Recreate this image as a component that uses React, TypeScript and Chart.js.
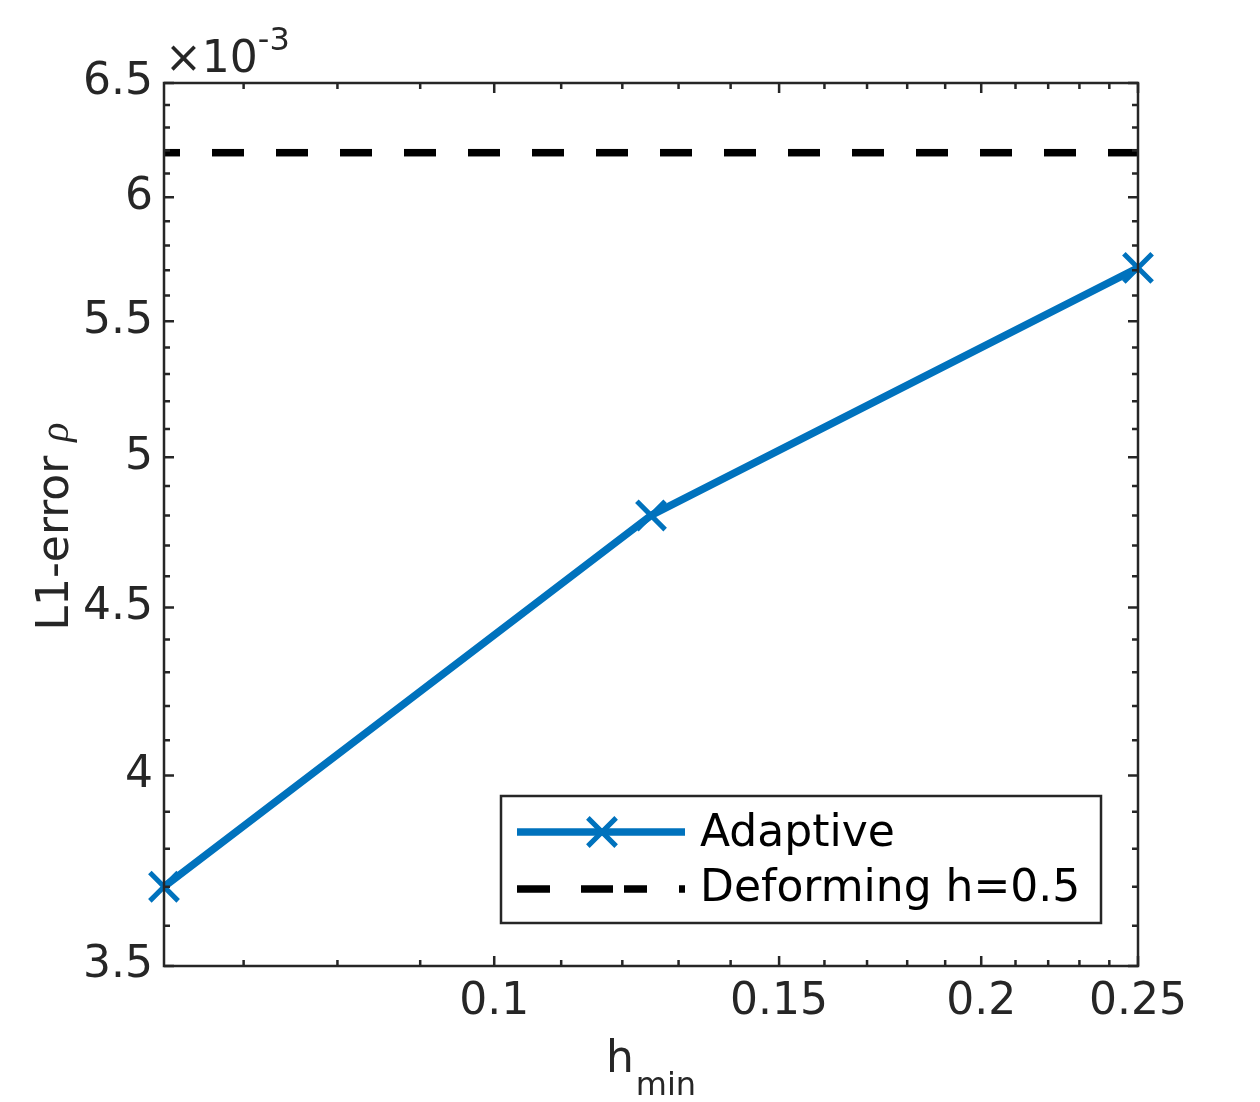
import React, { useEffect, useRef } from 'react';
import { Chart, registerables } from 'chart.js';

Chart.register(...registerables);

// ---- data ----
const hMin = [0.0625, 0.125, 0.25];
const adaptiveErr = [3.70e-3, 4.80e-3, 5.71e-3];
const deformingX = [0.0625, 0.25];
const deformingErr = [6.19e-3, 6.19e-3];
const seriesNames = ['Adaptive', 'Deforming h=0.5'];

const xMajorTicks = [0.1, 0.15, 0.2, 0.25];
const xMajorLabels = ['0.1', '0.15', '0.2', '0.25'];
const xMinorTicks = [0.07, 0.08, 0.09, 0.11, 0.12, 0.13, 0.14, 0.16, 0.17, 0.18, 0.19, 0.21, 0.22, 0.23, 0.24];

const yMajorTicks = [3.5e-3, 4.0e-3, 4.5e-3, 5.0e-3, 5.5e-3, 6.0e-3, 6.5e-3];
const yMajorLabels = ['3.5', '4', '4.5', '5', '5.5', '6', '6.5'];
const yMinorTicks = [
  3.6e-3, 3.7e-3, 3.8e-3, 3.9e-3,
  4.1e-3, 4.2e-3, 4.3e-3, 4.4e-3,
  4.6e-3, 4.7e-3, 4.8e-3, 4.9e-3,
  5.1e-3, 5.2e-3, 5.3e-3, 5.4e-3,
  5.6e-3, 5.7e-3, 5.8e-3, 5.9e-3,
  6.1e-3, 6.2e-3, 6.3e-3, 6.4e-3,
];

const FONT = "'DejaVu Sans', sans-serif";
const AXIS = '#262626';
const BLUE = '#0072BD';

function findIdx(list: number[], v: number): number {
  for (let i = 0; i < list.length; i++) {
    if (Math.abs(list[i] - v) / list[i] < 1e-6) return i;
  }
  return -1;
}

const framePlugin = {
  id: 'frame',
  afterDraw(chart: any) {
    const { ctx, chartArea: a, scales } = chart;
    const xs = scales.x;
    const ys = scales.y;
    ctx.save();

    // box
    ctx.strokeStyle = AXIS;
    ctx.lineWidth = 2.5;
    ctx.strokeRect(a.left, a.top, a.right - a.left, a.bottom - a.top);

    // inward ticks
    const majorLen = 10;
    const minorLen = 6;
    ctx.beginPath();
    const xAll = [...xMajorTicks.map((v) => [v, 1]), ...xMinorTicks.map((v) => [v, 0])];
    xAll.forEach(([v, m]) => {
      const px = xs.getPixelForValue(v);
      const len = m ? majorLen : minorLen;
      ctx.moveTo(px, a.bottom);
      ctx.lineTo(px, a.bottom - len);
      ctx.moveTo(px, a.top);
      ctx.lineTo(px, a.top + len);
    });
    const yAll = [...yMajorTicks.map((v) => [v, 1]), ...yMinorTicks.map((v) => [v, 0])];
    yAll.forEach(([v, m]) => {
      const py = ys.getPixelForValue(v);
      const len = m ? majorLen : minorLen;
      ctx.moveTo(a.left, py);
      ctx.lineTo(a.left + len, py);
      ctx.moveTo(a.right, py);
      ctx.lineTo(a.right - len, py);
    });
    ctx.stroke();

    // exponent label
    ctx.fillStyle = AXIS;
    ctx.textAlign = 'left';
    ctx.textBaseline = 'alphabetic';
    ctx.font = `44px ${FONT}`;
    ctx.fillText('\u00d710', a.left + 1, 72);
    const w10 = ctx.measureText('\u00d710').width;
    ctx.font = `32px ${FONT}`;
    ctx.fillText('-3', a.left + 1 + w10, 50);

    // x title
    ctx.font = `44px ${FONT}`;
    const hw = ctx.measureText('h').width;
    ctx.font = `32px ${FONT}`;
    const mw = ctx.measureText('min').width;
    const cx = (a.left + a.right) / 2;
    const startX = cx - (hw + mw + 2) / 2;
    ctx.font = `44px ${FONT}`;
    ctx.fillText('h', startX, 1072);
    ctx.font = `32px ${FONT}`;
    ctx.fillText('min', startX + hw + 2, 1095);

    // y title
    ctx.save();
    ctx.translate(68, (a.top + a.bottom) / 2 + 2);
    ctx.rotate(-Math.PI / 2);
    ctx.font = `44px ${FONT}`;
    const t1 = 'L1-error ';
    const w1 = ctx.measureText(t1).width;
    ctx.font = `italic 40px 'Liberation Serif', serif`;
    const w2 = ctx.measureText('\u03c1').width;
    const s = -(w1 + w2) / 2;
    ctx.font = `44px ${FONT}`;
    ctx.fillText(t1, s, 0);
    ctx.font = `italic 40px 'Liberation Serif', serif`;
    ctx.fillText('\u03c1', s + w1, 0);
    ctx.restore();

    // legend
    const ds0 = chart.data.datasets[0];
    const ds1 = chart.data.datasets[1];
    const lx = 501, ly = 796, lw = 600, lh = 127;
    ctx.fillStyle = '#ffffff';
    ctx.fillRect(lx, ly, lw, lh);
    ctx.strokeStyle = AXIS;
    ctx.lineWidth = 2.5;
    ctx.strokeRect(lx, ly, lw, lh);

    const row1 = 832;
    const row2 = 889;
    const sx0 = 517, sx1 = 685;
    ctx.strokeStyle = ds0.borderColor;
    ctx.lineWidth = ds0.borderWidth;
    ctx.beginPath();
    ctx.moveTo(sx0, row1);
    ctx.lineTo(sx1, row1);
    ctx.stroke();
    const mcx = 602;
    const r = ds0.pointRadius * Math.SQRT1_2;
    ctx.lineWidth = ds0.pointBorderWidth;
    ctx.beginPath();
    ctx.moveTo(mcx - r, row1 - r);
    ctx.lineTo(mcx + r, row1 + r);
    ctx.moveTo(mcx - r, row1 + r);
    ctx.lineTo(mcx + r, row1 - r);
    ctx.stroke();

    ctx.strokeStyle = ds1.borderColor;
    ctx.lineWidth = ds1.borderWidth;
    ctx.setLineDash([33, 31, 32, 11, 23, 32, 6, 100]);
    ctx.beginPath();
    ctx.moveTo(sx0, row2);
    ctx.lineTo(sx1, row2);
    ctx.stroke();
    ctx.setLineDash([]);

    ctx.fillStyle = '#000000';
    ctx.font = `44px ${FONT}`;
    ctx.textBaseline = 'middle';
    ctx.fillText(seriesNames[0], 700, row1 + 3);
    ctx.fillText(seriesNames[1], 700, row2 + 1);

    ctx.restore();
  },
};

export default function App() {
  const ref = useRef<HTMLCanvasElement | null>(null);

  useEffect(() => {
    if (!ref.current) return;
    const chart = new Chart(ref.current, {
      type: 'line',
      data: {
        datasets: [
          {
            label: seriesNames[0],
            data: hMin.map((x, i) => ({ x, y: adaptiveErr[i] })),
            borderColor: BLUE,
            backgroundColor: BLUE,
            borderWidth: 7.5,
            borderJoinStyle: 'round',
            pointStyle: 'crossRot',
            pointRadius: 20,
            pointBorderWidth: 5,
            pointBorderColor: BLUE,
            pointBackgroundColor: BLUE,
            clip: false,
            tension: 0,
          } as any,
          {
            label: seriesNames[1],
            data: deformingX.map((x, i) => ({ x, y: deformingErr[i] })),
            borderColor: '#000000',
            borderWidth: 7.5,
            borderDash: [32, 32],
            borderDashOffset: 16,
            pointRadius: 0,
            tension: 0,
          } as any,
        ],
      },
      options: {
        animation: false,
        responsive: false,
        devicePixelRatio: 1,
        layout: { padding: { top: 83, right: 122, left: 0, bottom: 0 } },
        plugins: { legend: { display: false }, tooltip: { enabled: false } },
        scales: {
          x: {
            type: 'logarithmic',
            min: 0.0625,
            max: 0.25,
            afterBuildTicks: (scale: any) => {
              scale.ticks = xMajorTicks.map((v) => ({ value: v }));
            },
            afterFit: (scale: any) => {
              scale.height = 136;
            },
            grid: { display: false, drawTicks: false },
            border: { display: false },
            ticks: {
              autoSkip: false,
              maxRotation: 0,
              minRotation: 0,
              padding: 10,
              color: AXIS,
              font: { family: FONT, size: 44 },
              callback: (value: any) => {
                const i = findIdx(xMajorTicks, Number(value));
                return i >= 0 ? xMajorLabels[i] : '';
              },
            },
          },
          y: {
            type: 'logarithmic',
            min: 3.5e-3,
            max: 6.5e-3,
            afterBuildTicks: (scale: any) => {
              scale.ticks = yMajorTicks.map((v) => ({ value: v }));
            },
            afterFit: (scale: any) => {
              scale.width = 164;
            },
            grid: { display: false, drawTicks: false },
            border: { display: false },
            ticks: {
              autoSkip: false,
              padding: 11,
              color: AXIS,
              font: { family: FONT, size: 44 },
              callback: (value: any) => {
                const i = findIdx(yMajorTicks, Number(value));
                return i >= 0 ? yMajorLabels[i] : '';
              },
            },
          },
        },
      } as any,
      plugins: [framePlugin],
    });
    return () => chart.destroy();
  }, []);

  return (
    <div style={{ position: 'absolute', left: 0, top: 0, width: 1260, height: 1102, background: '#ffffff' }}>
      <canvas ref={ref} width={1260} height={1102} style={{ display: 'block' }} />
    </div>
  );
}
